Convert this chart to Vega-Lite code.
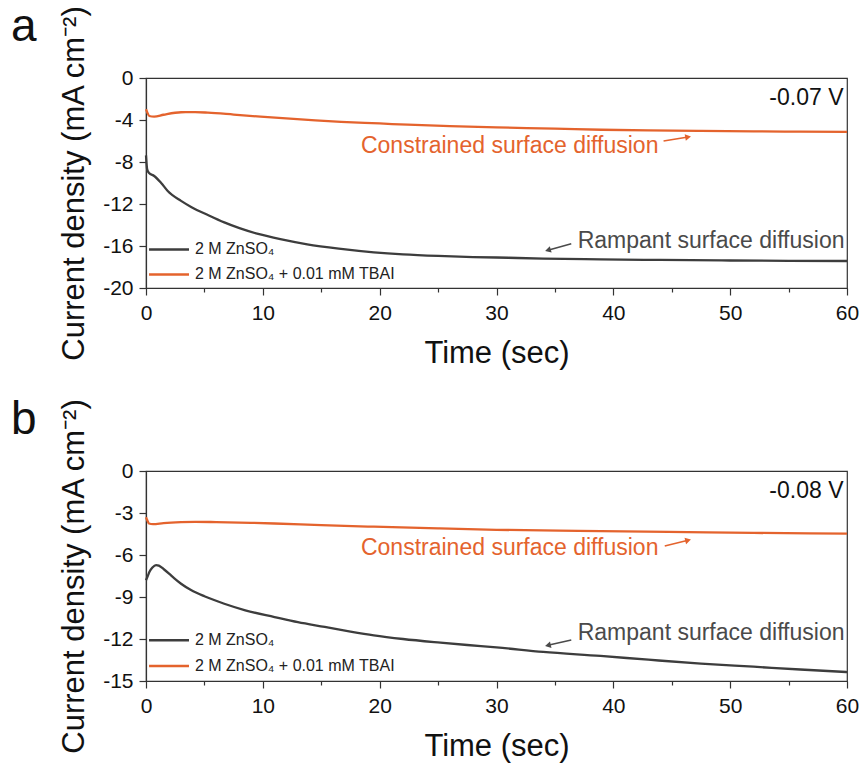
{
  "$schema": "https://vega.github.io/schema/vega-lite/v6.json",
  "padding": {"left": 10, "top": 3, "right": 8, "bottom": 2},
  "spacing": 27,
  "datasets": {
    "curves": [
      {"p":"a","s":"2 M ZnSO₄","t":0,"j":-7.37},
      {"p":"a","s":"2 M ZnSO₄","t":0.1,"j":-8.7},
      {"p":"a","s":"2 M ZnSO₄","t":0.26,"j":-9.05},
      {"p":"a","s":"2 M ZnSO₄","t":0.7,"j":-9.33},
      {"p":"a","s":"2 M ZnSO₄","t":1.28,"j":-9.97},
      {"p":"a","s":"2 M ZnSO₄","t":1.86,"j":-10.76},
      {"p":"a","s":"2 M ZnSO₄","t":3,"j":-11.7},
      {"p":"a","s":"2 M ZnSO₄","t":3.9,"j":-12.3},
      {"p":"a","s":"2 M ZnSO₄","t":5.3,"j":-13.05},
      {"p":"a","s":"2 M ZnSO₄","t":6.7,"j":-13.75},
      {"p":"a","s":"2 M ZnSO₄","t":8,"j":-14.3},
      {"p":"a","s":"2 M ZnSO₄","t":9.6,"j":-14.85},
      {"p":"a","s":"2 M ZnSO₄","t":11.5,"j":-15.35},
      {"p":"a","s":"2 M ZnSO₄","t":13.8,"j":-15.84},
      {"p":"a","s":"2 M ZnSO₄","t":16.5,"j":-16.25},
      {"p":"a","s":"2 M ZnSO₄","t":19.5,"j":-16.6},
      {"p":"a","s":"2 M ZnSO₄","t":22,"j":-16.8},
      {"p":"a","s":"2 M ZnSO₄","t":25,"j":-16.95},
      {"p":"a","s":"2 M ZnSO₄","t":28,"j":-17.05},
      {"p":"a","s":"2 M ZnSO₄","t":31,"j":-17.12},
      {"p":"a","s":"2 M ZnSO₄","t":34,"j":-17.2},
      {"p":"a","s":"2 M ZnSO₄","t":38.9,"j":-17.27},
      {"p":"a","s":"2 M ZnSO₄","t":44,"j":-17.33},
      {"p":"a","s":"2 M ZnSO₄","t":50,"j":-17.38},
      {"p":"a","s":"2 M ZnSO₄","t":55,"j":-17.41},
      {"p":"a","s":"2 M ZnSO₄","t":60,"j":-17.43},
      {"p":"a","s":"2 M ZnSO₄ + 0.01 mM TBAI","t":0,"j":-2.98},
      {"p":"a","s":"2 M ZnSO₄ + 0.01 mM TBAI","t":0.12,"j":-3.3},
      {"p":"a","s":"2 M ZnSO₄ + 0.01 mM TBAI","t":0.28,"j":-3.62},
      {"p":"a","s":"2 M ZnSO₄ + 0.01 mM TBAI","t":0.7,"j":-3.68},
      {"p":"a","s":"2 M ZnSO₄ + 0.01 mM TBAI","t":1.5,"j":-3.5},
      {"p":"a","s":"2 M ZnSO₄ + 0.01 mM TBAI","t":3,"j":-3.26},
      {"p":"a","s":"2 M ZnSO₄ + 0.01 mM TBAI","t":4.2,"j":-3.25},
      {"p":"a","s":"2 M ZnSO₄ + 0.01 mM TBAI","t":5.3,"j":-3.3},
      {"p":"a","s":"2 M ZnSO₄ + 0.01 mM TBAI","t":7.5,"j":-3.48},
      {"p":"a","s":"2 M ZnSO₄ + 0.01 mM TBAI","t":9.8,"j":-3.68},
      {"p":"a","s":"2 M ZnSO₄ + 0.01 mM TBAI","t":12,"j":-3.85},
      {"p":"a","s":"2 M ZnSO₄ + 0.01 mM TBAI","t":14.5,"j":-4.03},
      {"p":"a","s":"2 M ZnSO₄ + 0.01 mM TBAI","t":16.7,"j":-4.17},
      {"p":"a","s":"2 M ZnSO₄ + 0.01 mM TBAI","t":20,"j":-4.33},
      {"p":"a","s":"2 M ZnSO₄ + 0.01 mM TBAI","t":22.4,"j":-4.45},
      {"p":"a","s":"2 M ZnSO₄ + 0.01 mM TBAI","t":26,"j":-4.58},
      {"p":"a","s":"2 M ZnSO₄ + 0.01 mM TBAI","t":30,"j":-4.7},
      {"p":"a","s":"2 M ZnSO₄ + 0.01 mM TBAI","t":35,"j":-4.83},
      {"p":"a","s":"2 M ZnSO₄ + 0.01 mM TBAI","t":39,"j":-4.93},
      {"p":"a","s":"2 M ZnSO₄ + 0.01 mM TBAI","t":43,"j":-4.99},
      {"p":"a","s":"2 M ZnSO₄ + 0.01 mM TBAI","t":47.5,"j":-5.04},
      {"p":"a","s":"2 M ZnSO₄ + 0.01 mM TBAI","t":52,"j":-5.08},
      {"p":"a","s":"2 M ZnSO₄ + 0.01 mM TBAI","t":56,"j":-5.11},
      {"p":"a","s":"2 M ZnSO₄ + 0.01 mM TBAI","t":60,"j":-5.14},
      {"p":"b","s":"2 M ZnSO₄","t":0,"j":-7.8},
      {"p":"b","s":"2 M ZnSO₄","t":0.15,"j":-7.5},
      {"p":"b","s":"2 M ZnSO₄","t":0.3,"j":-7.2},
      {"p":"b","s":"2 M ZnSO₄","t":0.55,"j":-6.9},
      {"p":"b","s":"2 M ZnSO₄","t":0.86,"j":-6.72},
      {"p":"b","s":"2 M ZnSO₄","t":1.1,"j":-6.76},
      {"p":"b","s":"2 M ZnSO₄","t":1.5,"j":-7.0},
      {"p":"b","s":"2 M ZnSO₄","t":2,"j":-7.35},
      {"p":"b","s":"2 M ZnSO₄","t":2.4,"j":-7.65},
      {"p":"b","s":"2 M ZnSO₄","t":3,"j":-8.05},
      {"p":"b","s":"2 M ZnSO₄","t":3.85,"j":-8.5},
      {"p":"b","s":"2 M ZnSO₄","t":5,"j":-8.95},
      {"p":"b","s":"2 M ZnSO₄","t":6.7,"j":-9.48},
      {"p":"b","s":"2 M ZnSO₄","t":8.5,"j":-9.95},
      {"p":"b","s":"2 M ZnSO₄","t":11,"j":-10.43},
      {"p":"b","s":"2 M ZnSO₄","t":13,"j":-10.8},
      {"p":"b","s":"2 M ZnSO₄","t":15.3,"j":-11.14},
      {"p":"b","s":"2 M ZnSO₄","t":17.5,"j":-11.47},
      {"p":"b","s":"2 M ZnSO₄","t":19.5,"j":-11.74},
      {"p":"b","s":"2 M ZnSO₄","t":22,"j":-12.0},
      {"p":"b","s":"2 M ZnSO₄","t":25.2,"j":-12.26},
      {"p":"b","s":"2 M ZnSO₄","t":27.5,"j":-12.43},
      {"p":"b","s":"2 M ZnSO₄","t":30,"j":-12.6},
      {"p":"b","s":"2 M ZnSO₄","t":34,"j":-12.92},
      {"p":"b","s":"2 M ZnSO₄","t":38.9,"j":-13.21},
      {"p":"b","s":"2 M ZnSO₄","t":43,"j":-13.48},
      {"p":"b","s":"2 M ZnSO₄","t":47.5,"j":-13.76},
      {"p":"b","s":"2 M ZnSO₄","t":52,"j":-13.98},
      {"p":"b","s":"2 M ZnSO₄","t":56,"j":-14.18},
      {"p":"b","s":"2 M ZnSO₄","t":60,"j":-14.36},
      {"p":"b","s":"2 M ZnSO₄ + 0.01 mM TBAI","t":0,"j":-3.3},
      {"p":"b","s":"2 M ZnSO₄ + 0.01 mM TBAI","t":0.1,"j":-3.5},
      {"p":"b","s":"2 M ZnSO₄ + 0.01 mM TBAI","t":0.25,"j":-3.75},
      {"p":"b","s":"2 M ZnSO₄ + 0.01 mM TBAI","t":0.6,"j":-3.8},
      {"p":"b","s":"2 M ZnSO₄ + 0.01 mM TBAI","t":1.5,"j":-3.72},
      {"p":"b","s":"2 M ZnSO₄ + 0.01 mM TBAI","t":3,"j":-3.65},
      {"p":"b","s":"2 M ZnSO₄ + 0.01 mM TBAI","t":4.2,"j":-3.63},
      {"p":"b","s":"2 M ZnSO₄ + 0.01 mM TBAI","t":6,"j":-3.65},
      {"p":"b","s":"2 M ZnSO₄ + 0.01 mM TBAI","t":9,"j":-3.7},
      {"p":"b","s":"2 M ZnSO₄ + 0.01 mM TBAI","t":11,"j":-3.75},
      {"p":"b","s":"2 M ZnSO₄ + 0.01 mM TBAI","t":15,"j":-3.87},
      {"p":"b","s":"2 M ZnSO₄ + 0.01 mM TBAI","t":19.5,"j":-3.98},
      {"p":"b","s":"2 M ZnSO₄ + 0.01 mM TBAI","t":25,"j":-4.1},
      {"p":"b","s":"2 M ZnSO₄ + 0.01 mM TBAI","t":30,"j":-4.2},
      {"p":"b","s":"2 M ZnSO₄ + 0.01 mM TBAI","t":37,"j":-4.28},
      {"p":"b","s":"2 M ZnSO₄ + 0.01 mM TBAI","t":44.7,"j":-4.35},
      {"p":"b","s":"2 M ZnSO₄ + 0.01 mM TBAI","t":52,"j":-4.42},
      {"p":"b","s":"2 M ZnSO₄ + 0.01 mM TBAI","t":60,"j":-4.48}
    ],
    "keys": [
      {"p":"a","s":"2 M ZnSO₄","t0":0.26,"t1":3.68,"tl":4.19,"j":-16.33},
      {"p":"a","s":"2 M ZnSO₄ + 0.01 mM TBAI","t0":0.26,"t1":3.68,"tl":4.19,"j":-18.71},
      {"p":"b","s":"2 M ZnSO₄","t0":0.26,"t1":3.68,"tl":4.19,"j":-12.09},
      {"p":"b","s":"2 M ZnSO₄ + 0.01 mM TBAI","t0":0.26,"t1":3.68,"tl":4.19,"j":-13.93}
    ],
    "notes": [
      {"p":"a","k":"volt","t":59.7,"j":-1.9,"label":"-0.07 V"},
      {"p":"a","k":"orange","t":18.4,"j":-6.48,"label":"Constrained surface diffusion"},
      {"p":"a","k":"gray","t":36.95,"j":-15.52,"label":"Rampant surface diffusion"},
      {"p":"b","k":"volt","t":59.7,"j":-1.43,"label":"-0.08 V"},
      {"p":"b","k":"orange","t":18.4,"j":-5.48,"label":"Constrained surface diffusion"},
      {"p":"b","k":"gray","t":36.95,"j":-11.55,"label":"Rampant surface diffusion"}
    ],
    "arrows": [
      {"p":"a","k":"orange","t":44.3,"j":-6.0,"t2":46.4,"j2":-5.62},
      {"p":"a","k":"gray","t":36.4,"j":-15.78,"t2":34.4,"j2":-16.4},
      {"p":"b","k":"orange","t":44.4,"j":-5.36,"t2":46.4,"j2":-4.95},
      {"p":"b","k":"gray","t":36.4,"j":-12.07,"t2":34.4,"j2":-12.45}
    ]
  },
  "resolve": {"scale": {"color": "independent", "y": "independent"}, "legend": {"color": "independent"}},
  "vconcat": [
    {
      "width": 701, "height": 210,
      "title": {"text": "a", "dx": -135, "offset": -46},
      "layer": [
        {
          "data": {"name": "curves"},
          "transform": [{"filter": "datum.p === 'a'"}],
          "mark": {"type": "line", "strokeWidth": 2.3, "interpolate": "monotone"},
          "encoding": {
            "x": {"field": "t", "type": "quantitative", "scale": {"domain": [0, 60], "nice": false},
                  "axis": {"title": "Time (sec)", "values": [0,5,10,15,20,25,30,35,40,45,50,55,60],
                           "labelExpr": "datum.value % 10 === 0 ? '' + datum.value : ''",
                           "tickSize": {"condition": {"test": "datum.value % 10 !== 0", "value": 4}, "value": 7}}},
            "y": {"field": "j", "type": "quantitative", "scale": {"domain": [-20, 0], "nice": false},
                  "axis": {"title": "Current density (mA cm⁻²)", "values": [0,-2,-4,-6,-8,-10,-12,-14,-16,-18,-20],
                           "labelExpr": "datum.value % 4 === 0 ? '' + datum.value : ''",
                           "tickSize": {"condition": {"test": "datum.value % 4 !== 0", "value": 4}, "value": 7}}},
            "color": {"field": "s", "type": "nominal",
                      "scale": {"domain": ["2 M ZnSO₄", "2 M ZnSO₄ + 0.01 mM TBAI"], "range": ["#3d3d3d", "#e4632d"]},
                      "legend": null}
          }
        },
        {
          "data": {"name": "keys"},
          "transform": [{"filter": "datum.p === 'a'"}],
          "mark": {"type": "rule", "strokeWidth": 2.5},
          "encoding": {"x": {"field": "t0", "type": "quantitative"}, "x2": {"field": "t1"}, "y": {"field": "j", "type": "quantitative"},
                       "color": {"field": "s", "type": "nominal", "legend": null}}
        },
        {
          "data": {"name": "keys"},
          "transform": [{"filter": "datum.p === 'a'"}],
          "mark": {"type": "text", "align": "left", "baseline": "middle", "fontSize": 16, "color": "#222"},
          "encoding": {"x": {"field": "tl", "type": "quantitative"}, "y": {"field": "j", "type": "quantitative"}, "text": {"field": "s"}}
        },
        {
          "data": {"name": "notes"},
          "transform": [{"filter": "datum.p === 'a' && datum.k === 'volt'"}],
          "mark": {"type": "text", "align": "right", "baseline": "middle", "fontSize": 23, "color": "#111"},
          "encoding": {"x": {"field": "t", "type": "quantitative"}, "y": {"field": "j", "type": "quantitative"}, "text": {"field": "label"}}
        },
        {
          "data": {"name": "notes"},
          "transform": [{"filter": "datum.p === 'a' && datum.k === 'orange'"}],
          "mark": {"type": "text", "align": "left", "baseline": "middle", "fontSize": 23, "color": "#e4632d"},
          "encoding": {"x": {"field": "t", "type": "quantitative"}, "y": {"field": "j", "type": "quantitative"}, "text": {"field": "label"}}
        },
        {
          "data": {"name": "notes"},
          "transform": [{"filter": "datum.p === 'a' && datum.k === 'gray'"}],
          "mark": {"type": "text", "align": "left", "baseline": "middle", "fontSize": 23, "color": "#4a4a4a"},
          "encoding": {"x": {"field": "t", "type": "quantitative"}, "y": {"field": "j", "type": "quantitative"}, "text": {"field": "label"}}
        },
        {
          "data": {"name": "arrows"},
          "transform": [{"filter": "datum.p === 'a' && datum.k === 'orange'"}],
          "mark": {"type": "rule", "strokeWidth": 1.5, "color": "#e4632d"},
          "encoding": {"x": {"field": "t", "type": "quantitative"}, "y": {"field": "j", "type": "quantitative"},
                       "x2": {"field": "t2"}, "y2": {"field": "j2"}}
        },
        {
          "data": {"name": "arrows"},
          "transform": [{"filter": "datum.p === 'a' && datum.k === 'gray'"}],
          "mark": {"type": "rule", "strokeWidth": 1.5, "color": "#4a4a4a"},
          "encoding": {"x": {"field": "t", "type": "quantitative"}, "y": {"field": "j", "type": "quantitative"},
                       "x2": {"field": "t2"}, "y2": {"field": "j2"}}
        },
        {
          "data": {"name": "arrows"},
          "transform": [{"filter": "datum.p === 'a' && datum.k === 'orange'"}],
          "mark": {"type": "point", "shape": "triangle-right", "filled": true, "size": 45, "angle": 350, "color": "#e4632d", "opacity": 1},
          "encoding": {"x": {"field": "t2", "type": "quantitative"}, "y": {"field": "j2", "type": "quantitative"}}
        },
        {
          "data": {"name": "arrows"},
          "transform": [{"filter": "datum.p === 'a' && datum.k === 'gray'"}],
          "mark": {"type": "point", "shape": "triangle-left", "filled": true, "size": 45, "angle": 344, "color": "#4a4a4a", "opacity": 1},
          "encoding": {"x": {"field": "t2", "type": "quantitative"}, "y": {"field": "j2", "type": "quantitative"}}
        }
      ]
    },
    {
      "width": 701, "height": 210,
      "title": {"text": "b", "dx": -135, "offset": -46},
      "layer": [
        {
          "data": {"name": "curves"},
          "transform": [{"filter": "datum.p === 'b'"}],
          "mark": {"type": "line", "strokeWidth": 2.3, "interpolate": "monotone"},
          "encoding": {
            "x": {"field": "t", "type": "quantitative", "scale": {"domain": [0, 60], "nice": false},
                  "axis": {"title": "Time (sec)", "values": [0,5,10,15,20,25,30,35,40,45,50,55,60],
                           "labelExpr": "datum.value % 10 === 0 ? '' + datum.value : ''",
                           "tickSize": {"condition": {"test": "datum.value % 10 !== 0", "value": 4}, "value": 7}}},
            "y": {"field": "j", "type": "quantitative", "scale": {"domain": [-15, 0], "nice": false},
                  "axis": {"title": "Current density (mA cm⁻²)", "values": [0,-1.5,-3,-4.5,-6,-7.5,-9,-10.5,-12,-13.5,-15],
                           "labelExpr": "datum.value % 3 === 0 ? '' + datum.value : ''",
                           "tickSize": {"condition": {"test": "datum.value % 3 !== 0", "value": 4}, "value": 7}}},
            "color": {"field": "s", "type": "nominal",
                      "scale": {"domain": ["2 M ZnSO₄", "2 M ZnSO₄ + 0.01 mM TBAI"], "range": ["#3d3d3d", "#e4632d"]},
                      "legend": null}
          }
        },
        {
          "data": {"name": "keys"},
          "transform": [{"filter": "datum.p === 'b'"}],
          "mark": {"type": "rule", "strokeWidth": 2.5},
          "encoding": {"x": {"field": "t0", "type": "quantitative"}, "x2": {"field": "t1"}, "y": {"field": "j", "type": "quantitative"},
                       "color": {"field": "s", "type": "nominal", "legend": null}}
        },
        {
          "data": {"name": "keys"},
          "transform": [{"filter": "datum.p === 'b'"}],
          "mark": {"type": "text", "align": "left", "baseline": "middle", "fontSize": 16, "color": "#222"},
          "encoding": {"x": {"field": "tl", "type": "quantitative"}, "y": {"field": "j", "type": "quantitative"}, "text": {"field": "s"}}
        },
        {
          "data": {"name": "notes"},
          "transform": [{"filter": "datum.p === 'b' && datum.k === 'volt'"}],
          "mark": {"type": "text", "align": "right", "baseline": "middle", "fontSize": 23, "color": "#111"},
          "encoding": {"x": {"field": "t", "type": "quantitative"}, "y": {"field": "j", "type": "quantitative"}, "text": {"field": "label"}}
        },
        {
          "data": {"name": "notes"},
          "transform": [{"filter": "datum.p === 'b' && datum.k === 'orange'"}],
          "mark": {"type": "text", "align": "left", "baseline": "middle", "fontSize": 23, "color": "#e4632d"},
          "encoding": {"x": {"field": "t", "type": "quantitative"}, "y": {"field": "j", "type": "quantitative"}, "text": {"field": "label"}}
        },
        {
          "data": {"name": "notes"},
          "transform": [{"filter": "datum.p === 'b' && datum.k === 'gray'"}],
          "mark": {"type": "text", "align": "left", "baseline": "middle", "fontSize": 23, "color": "#4a4a4a"},
          "encoding": {"x": {"field": "t", "type": "quantitative"}, "y": {"field": "j", "type": "quantitative"}, "text": {"field": "label"}}
        },
        {
          "data": {"name": "arrows"},
          "transform": [{"filter": "datum.p === 'b' && datum.k === 'orange'"}],
          "mark": {"type": "rule", "strokeWidth": 1.5, "color": "#e4632d"},
          "encoding": {"x": {"field": "t", "type": "quantitative"}, "y": {"field": "j", "type": "quantitative"},
                       "x2": {"field": "t2"}, "y2": {"field": "j2"}}
        },
        {
          "data": {"name": "arrows"},
          "transform": [{"filter": "datum.p === 'b' && datum.k === 'gray'"}],
          "mark": {"type": "rule", "strokeWidth": 1.5, "color": "#4a4a4a"},
          "encoding": {"x": {"field": "t", "type": "quantitative"}, "y": {"field": "j", "type": "quantitative"},
                       "x2": {"field": "t2"}, "y2": {"field": "j2"}}
        },
        {
          "data": {"name": "arrows"},
          "transform": [{"filter": "datum.p === 'b' && datum.k === 'orange'"}],
          "mark": {"type": "point", "shape": "triangle-right", "filled": true, "size": 45, "angle": 346, "color": "#e4632d", "opacity": 1},
          "encoding": {"x": {"field": "t2", "type": "quantitative"}, "y": {"field": "j2", "type": "quantitative"}}
        },
        {
          "data": {"name": "arrows"},
          "transform": [{"filter": "datum.p === 'b' && datum.k === 'gray'"}],
          "mark": {"type": "point", "shape": "triangle-left", "filled": true, "size": 45, "angle": 347, "color": "#4a4a4a", "opacity": 1},
          "encoding": {"x": {"field": "t2", "type": "quantitative"}, "y": {"field": "j2", "type": "quantitative"}}
        }
      ]
    }
  ],
  "config": {
    "font": "Liberation Sans",
    "view": {"stroke": "#333", "strokeWidth": 1.2},
    "axis": {"labelFontSize": 21, "titleFontWeight": "normal", "labelColor": "#111", "titleColor": "#111",
             "domainColor": "#333", "tickColor": "#333", "domainWidth": 1.2, "tickWidth": 1.2, "grid": false, "labelFlush": false, "labelOverlap": false},
    "axisX": {"labelPadding": 7, "titlePadding": 15, "titleFontSize": 31},
    "axisY": {"labelPadding": 6, "titlePadding": 12, "titleFontSize": 31},
    "title": {"fontSize": 46, "fontWeight": "normal", "anchor": "start", "frame": "group", "color": "#111"}
  }
}
